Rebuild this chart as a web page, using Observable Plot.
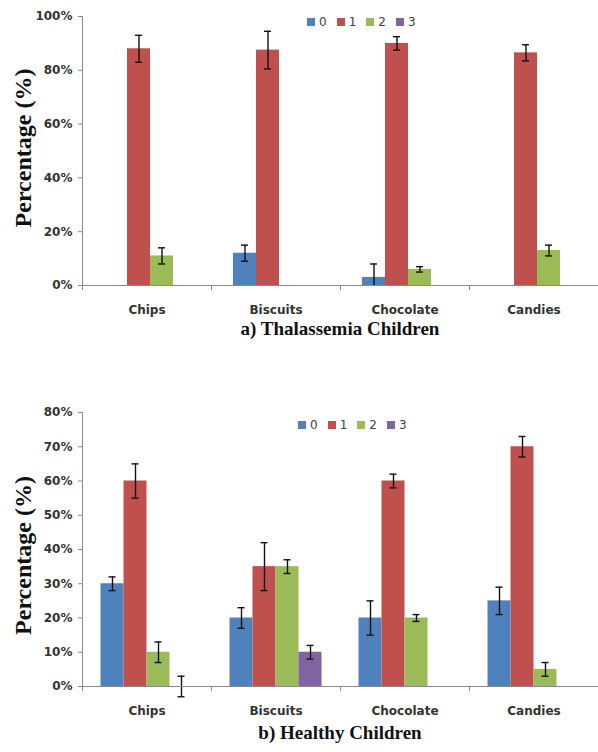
<!DOCTYPE html>
<html>
<head>
<meta charset="utf-8">
<script src="https://cdn.jsdelivr.net/npm/d3@7"></script>
<script src="https://cdn.jsdelivr.net/npm/@observablehq/plot@0.6"></script>
<style>
body { margin: 0; background: #fff; }
#wrap { position: relative; width: 598px; height: 752px; overflow: hidden; }
#wrap svg.panel { position: absolute; left: 0; }
.caption { position: absolute; left: 82px; width: 516px; height: 22px; line-height: 22px; text-align: center; font: bold 19px "Liberation Serif", serif; color: #111; }
#wrap .lg-swatches-wrap { position: absolute; min-height: 0; margin: 0; font: 12px "DejaVu Sans", sans-serif; color: #404040; line-height: 16px; }
#wrap .lg-swatch { margin-right: 10px; }
#wrap .lg-swatch > svg { margin-right: 4px; }
</style>
</head>
<body>
<div id="wrap"></div>
<script>
const categories = ["Chips", "Biscuits", "Chocolate", "Candies"];
const series = ["0", "1", "2", "3"];
const colors = ["#4F81BD", "#C0504D", "#9BBB59", "#8064A2"];

// a) Thalassemia Children: percentage per series, one value per category
const thalValues0 = [0, 12, 3, 0];
const thalValues1 = [88, 87.5, 90, 86.5];
const thalValues2 = [11, 0, 6, 13];
const thalValues3 = [0, 0, 0, 0];
const thalErrors0 = [null, 3, 5, null];
const thalErrors1 = [5, 7, 2.5, 3];
const thalErrors2 = [3, null, 1, 2];
const thalErrors3 = [null, null, null, null];
const thalTicks = [0, 20, 40, 60, 80, 100];

// b) Healthy Children
const healthyValues0 = [30, 20, 20, 25];
const healthyValues1 = [60, 35, 60, 70];
const healthyValues2 = [10, 35, 20, 5];
const healthyValues3 = [0, 10, 0, 0];
const healthyErrors0 = [2, 3, 5, 4];
const healthyErrors1 = [5, 7, 2, 3];
const healthyErrors2 = [3, 2, 1, 2];
const healthyErrors3 = [3, 2, null, null];
const healthyTicks = [0, 10, 20, 30, 40, 50, 60, 70, 80];

const yTitle = "Percentage (%)";
const captionA = "a) Thalassemia Children";
const captionB = "b) Healthy Children";

const wrap = document.getElementById("wrap");

function chart({values, errors, ticks, height, marginTop, marginBottom, groupOffset, clipZero, titleDy}) {
  const width = 598, marginLeft = 82, marginRight = 0;
  const bw = (width - marginLeft - marginRight) / categories.length;
  const barW = 23;
  const capW = 7;
  const yMax = ticks[ticks.length - 1];
  const rows = [];
  series.forEach((s, k) => categories.forEach((c, j) =>
    rows.push({series: s, k, category: c, value: values[k][j], err: errors[k][j]})));
  const marks = [];
  series.forEach((s, k) => {
    const left = groupOffset + k * barW;
    marks.push(Plot.barY(rows.filter(d => d.k === k && d.value > 0), {
      x: "category", y: "value", fill: colors[k],
      insetLeft: left, insetRight: bw - left - barW
    }));
  });
  series.forEach((s, k) => {
    const left = groupOffset + k * barW;
    const data = rows.filter(d => d.k === k && d.err != null);
    const lo = d => clipZero ? Math.max(0, d.value - d.err) : d.value - d.err;
    const hi = d => d.value + d.err;
    const ci = (barW - capW) / 2;
    const errStyle = {stroke: "#111", strokeWidth: 1.4};
    marks.push(Plot.ruleX(data, {x: "category", y1: lo, y2: hi, dx: left + barW / 2 - bw / 2, ...errStyle}));
    marks.push(Plot.tickY(data, {x: "category", y: hi, insetLeft: left + ci, insetRight: bw - left - barW + ci, ...errStyle}));
    marks.push(Plot.tickY(data.filter(d => !clipZero || d.value - d.err > 0),
      {x: "category", y: lo, insetLeft: left + ci, insetRight: bw - left - barW + ci, ...errStyle}));
  });
  marks.push(
    Plot.ruleY([0], {stroke: "#8a8a8a"}),
    Plot.ruleX([categories[0]], {x: d => d, dx: -bw / 2, y1: 0, y2: yMax, stroke: "#8a8a8a"}),
    Plot.axisY({ticks, tickFormat: d => d + "%", tickSize: 4, tickPadding: 6, stroke: "#8a8a8a", color: "#333", label: null}),
    Plot.axisX({tickSize: 0, tickPadding: 20, color: "#333", label: null}),
    Plot.axisX({tickSize: 5, dx: -bw / 2, stroke: "#8a8a8a", fill: "none", label: null}),
    Plot.text([yTitle], {text: d => d, frameAnchor: "left", textAnchor: "middle", rotate: -90, dx: -59, dy: titleDy,
      fontSize: 24, fontWeight: "bold", fontFamily: "Liberation Serif", fill: "#111"})
  );
  return Plot.plot({
    width, height, marginLeft, marginRight, marginTop, marginBottom,
    x: {domain: categories, padding: 0, label: null},
    y: {domain: [0, yMax], label: null},
    style: {fontFamily: "DejaVu Sans", fontSize: "12px", fontWeight: "bold", color: "#333", overflow: "visible", background: "transparent"},
    marks
  });
}

function addLegend(top, left) {
  const el = Plot.legend({color: {type: "ordinal", domain: series, range: colors}, swatchSize: 8, className: "lg"});
  el.style.top = top + "px";
  el.style.left = left + "px";
  wrap.appendChild(el);
}

function addCaption(text, top) {
  const d = document.createElement("div");
  d.className = "caption";
  d.style.top = top + "px";
  d.textContent = text;
  wrap.appendChild(d);
}

const c1 = chart({
  values: [thalValues0, thalValues1, thalValues2, thalValues3],
  errors: [thalErrors0, thalErrors1, thalErrors2, thalErrors3],
  ticks: thalTicks, height: 318, marginTop: 16, marginBottom: 33,
  groupOffset: 22, clipZero: true, titleDy: -3
});
c1.classList.add("panel");
c1.style.top = "0px";
wrap.appendChild(c1);
addCaption(captionA, 318);
addLegend(14, 307);

const c2 = chart({
  values: [healthyValues0, healthyValues1, healthyValues2, healthyValues3],
  errors: [healthyErrors0, healthyErrors1, healthyErrors2, healthyErrors3],
  ticks: healthyTicks, height: 327, marginTop: 17, marginBottom: 36,
  groupOffset: 18.5, clipZero: false, titleDy: 6
});
c2.classList.add("panel");
c2.style.top = "395px";
wrap.appendChild(c2);
addCaption(captionB, 722);
addLegend(417, 298);
</script>
</body>
</html>
